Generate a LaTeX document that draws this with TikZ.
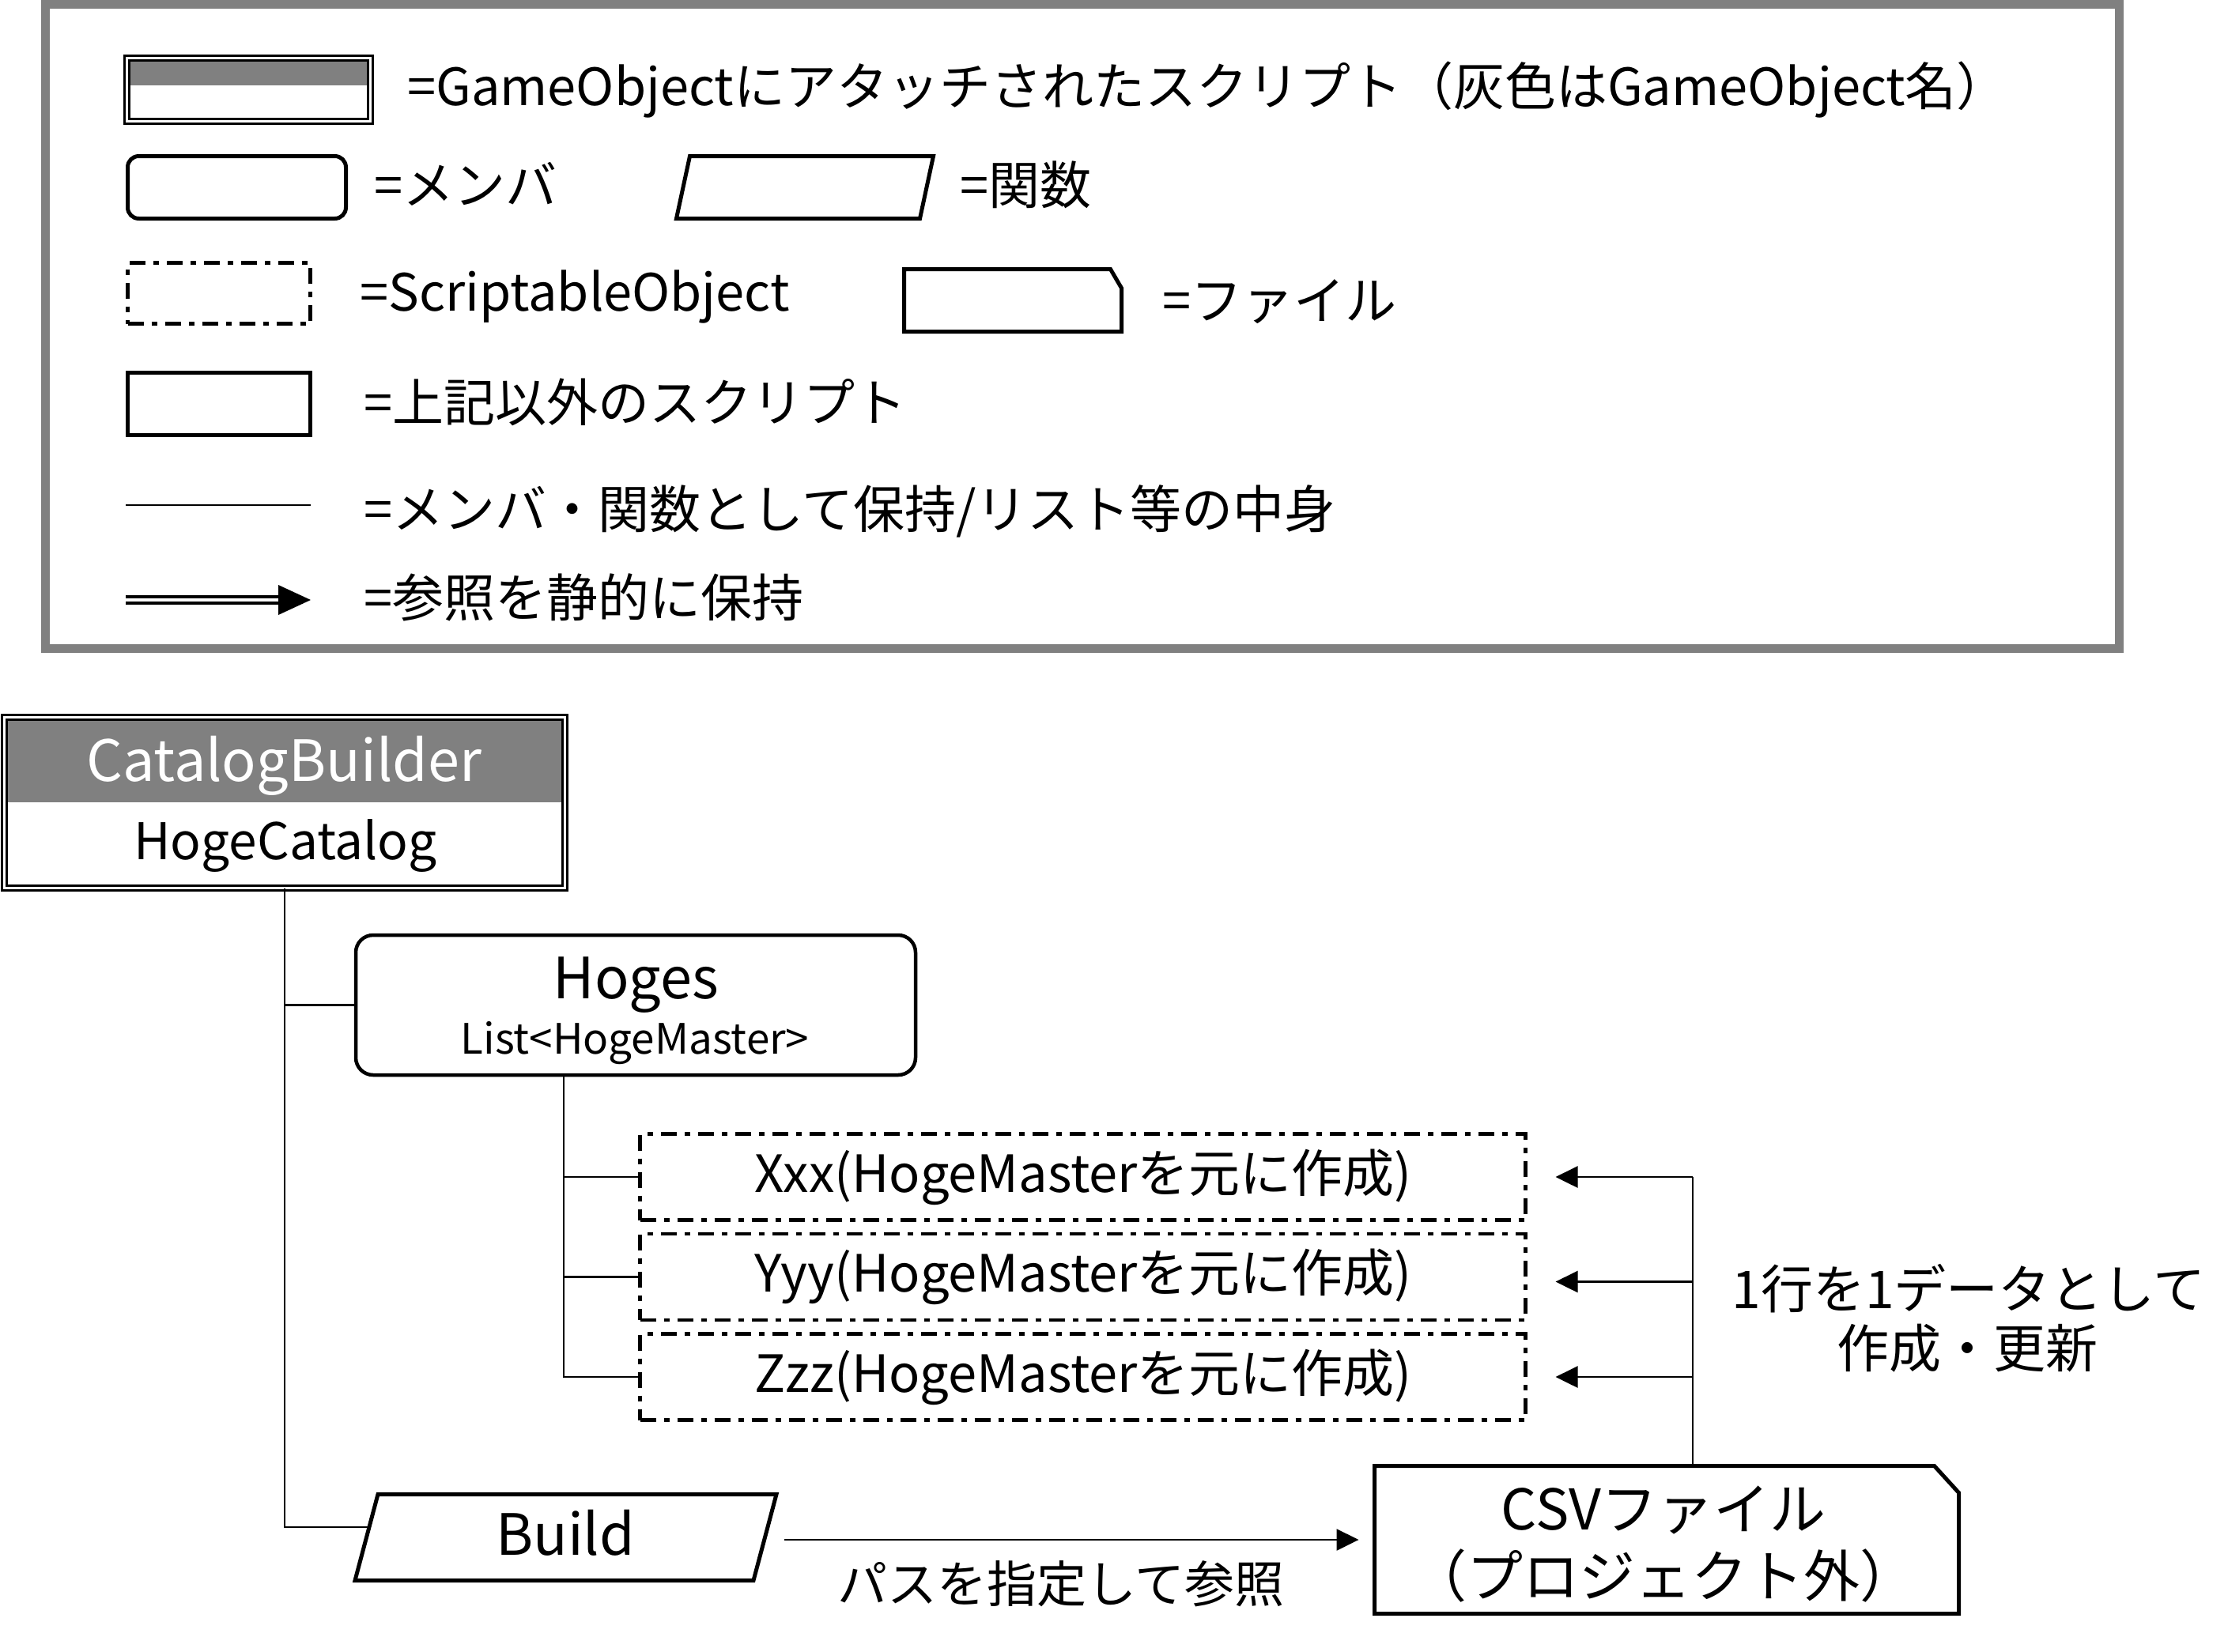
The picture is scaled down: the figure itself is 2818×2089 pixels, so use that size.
\documentclass[tikz,border=0pt]{standalone}
\usepackage{fontspec}
\setmainfont{Noto Sans CJK JP}
\usetikzlibrary{arrows.meta}
\newcommand\myfs[1]{\fontsize{#1pt}{#1pt}\selectfont}
\begin{document}
\begin{tikzpicture}[x=1pt,y=-1pt,
  box/.style={draw, line width=5pt, inner sep=0pt, outer sep=0pt},
  ghost/.style={inner sep=0pt, outer sep=0pt},
  shapeline/.style={draw, line width=5pt},
  gobox/.style={draw, double, line width=3pt, double distance=3pt, inner sep=0pt, outer sep=0pt},
  member/.style={box, rounded corners=#1},
  sobox/.style={box, line width=4.5pt, dash pattern=on 20pt off 10pt on 7pt off 10pt},
  conn/.style={line width=2.5pt},
  arr/.style={conn, -{Triangle[length=28pt,width=27pt]}},
  legtext/.style={anchor=base west, inner sep=0pt, font=\myfs{65}},
  txt/.style={anchor=base, inner sep=0pt, font=\myfs{#1}},
]
\useasboundingbox (0,0) rectangle (2818,2089);
\fill[white] (0,0) rectangle (2818,2089);

% ---------- legend ----------
\draw[gray, line width=11pt] (57.5,5.5) rectangle (2680.5,820);
\fill[gray] (165,78) rectangle (464,108);
\node[gobox, minimum width=308pt, minimum height=80pt] (lgo) at (314.5,113.5) {};
\node[legtext] (lgot) at (515,133) {=GameObjectにアタッチされたスクリプト（灰色はGameObject名）};

\node[member=14pt, minimum width=276pt, minimum height=79pt] (lmem) at (299.5,237) {};
\node[legtext] (lmemt) at (473,258) {=メンバ};

\node[ghost, minimum width=308pt, minimum height=79pt] (lfn) at (1018,237) {};
\draw[shapeline] ([xshift=8.5pt]lfn.north west) -- ([xshift=8.5pt]lfn.north east) -- ([xshift=-8.5pt]lfn.south east) -- ([xshift=-8.5pt]lfn.south west) -- cycle;
\node[legtext] (lfnt) at (1214,258) {=関数};

\node[sobox, minimum width=231pt, minimum height=77pt] (lso) at (277,371) {};
\node[legtext] (lsot) at (455,393) {=ScriptableObject};

\node[ghost, minimum width=275pt, minimum height=79pt] (lfile) at (1281,380) {};
\draw[shapeline] (lfile.south west) -- (lfile.north west) -- ([xshift=-14pt]lfile.north east) -- ([yshift=-24pt]lfile.north east) -- (lfile.south east) -- cycle;
\node[legtext] (lfilet) at (1470,404) {=ファイル};

\node[box, minimum width=231pt, minimum height=79pt] (lrect) at (277,511) {};
\node[legtext] (lrectt) at (460,533) {=上記以外のスクリプト};

\draw[conn] (159,639) -- (393,639);
\node[legtext] (llinet) at (460,668) {=メンバ・関数として保持/リスト等の中身};

\draw[line width=4pt, double=white, double distance=4pt] (159,758.5) -- (355,758.5);
\fill (352,740) -- (393,759) -- (352,778) -- cycle;
\node[legtext] (larrt) at (460,780) {=参照を静的に保持};

% ---------- main diagram ----------
\fill[gray] (10,912) rectangle (710,1015);
\node[gobox, minimum width=709pt, minimum height=216pt] (cb) at (360,1015.5) {};
\node[txt=72, text=white] (cbname) at (359,988) {CatalogBuilder};
\node[txt=64] (cbscript) at (361,1087) {HogeCatalog};

\node[member=22pt, line width=4.5pt, minimum width=708pt, minimum height=177pt] (hoges) at (804,1271.5) {};
\node[txt=72] (hogesname) at (804.5,1263) {Hoges};
\node[txt=53] (hogestype) at (803,1333) {List<HogeMaster>};

\node[sobox, minimum width=1120pt, minimum height=109pt] (xxx) at (1369.5,1489) {};
\node[sobox, minimum width=1120pt, minimum height=109pt] (yyy) at (1369.5,1615.5) {};
\node[sobox, minimum width=1120pt, minimum height=109pt] (zzz) at (1369.5,1742) {};
\node[txt=65] (xxxt) at (1370,1508) {Xxx(HogeMasterを元に作成)};
\node[txt=65] (yyyt) at (1370,1634.5) {Yyy(HogeMasterを元に作成)};
\node[txt=65] (zzzt) at (1370,1761) {Zzz(HogeMasterを元に作成)};

\node[ghost, minimum width=504pt, minimum height=109pt] (build) at (715.5,1945) {};
\draw[shapeline] ([xshift=14.5pt]build.north west) -- ([xshift=14.5pt]build.north east) -- ([xshift=-14.5pt]build.south east) -- ([xshift=-14.5pt]build.south west) -- cycle;
\node[txt=72] (buildt) at (715,1967) {Build};

\node[ghost, minimum width=739pt, minimum height=187pt] (csv) at (2108,1948) {};
\draw[shapeline] (csv.south west) -- (csv.north west) -- ([xshift=-31pt]csv.north east) -- ([yshift=-34pt]csv.north east) -- (csv.south east) -- cycle;
\node[txt=71] (csv1) at (2104,1935) {CSVファイル};
\node[txt=71] (csv2) at (2104,2020) {（プロジェクト外）};

% connectors
\draw[conn] (cb.south) |- (hoges.west);
\coordinate (buildin) at ([xshift=3.5pt,yshift=13pt]build.west);
\draw[conn] (cb.south) |- (buildin);

\coordinate (hx) at (713,1360);
\draw[conn] (hx) |- (xxx.west);
\draw[conn] (hx) |- (yyy.west);
\draw[conn] (hx) |- (zzz.west);

\coordinate (cx) at (2141,1489);
\coordinate (xa) at ([xshift=38pt]xxx.east);
\coordinate (ya) at ([xshift=38pt,yshift=-6pt]yyy.east);
\coordinate (za) at ([xshift=38pt]zzz.east);
\draw[conn] (cx |- csv.north) -- (cx);
\draw[arr] (xa -| cx) -- (xa);
\draw[arr] (ya -| cx) -- (ya);
\draw[arr] (za -| cx) -- (za);

\coordinate (bo) at ([xshift=24pt]build.east);
\coordinate (ci) at ([xshift=-20pt]csv.west);
\draw[arr] (bo |- ci) -- (ci);

\node[txt=63] (pathlbl) at (1342,2027) {パスを指定して参照};
\node[txt=66] (rowlbl1) at (2490,1655) {1行を1データとして};
\node[txt=66] (rowlbl2) at (2488,1730) {作成・更新};
\end{tikzpicture}
\end{document}
